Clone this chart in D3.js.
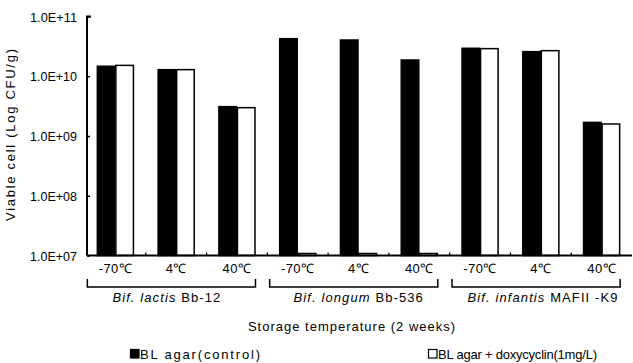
<!DOCTYPE html>
<html>
<head>
<meta charset="utf-8">
<script src="https://cdn.jsdelivr.net/npm/d3@7"></script>
<style>
  body { margin: 0; background: #fff; }
  svg { font-family: "Liberation Sans", Arial, sans-serif; }
</style>
</head>
<body>
<svg id="chart" width="633" height="363"></svg>
<script>
// temperatures within each strain group
var temps = ["-70\u2103", "4\u2103", "40\u2103"];
var strains = [
    { genus: "Bif. ", species: "lactis", strain: " Bb-12" },
    { genus: "Bif. ", species: "longum", strain: " Bb-536" },
    { genus: "Bif. ", species: "infantis", strain: " MAFII -K9" }
];
var seriesNames = ["BL agar(control)", "BL agar + doxycyclin(1mg/L)"];

// viable cells (CFU/g)
var control = [1.47e10, 1.29e10, 3.1e9, 4.25e10, 4.04e10, 1.87e10, 2.94e10, 2.58e10, 1.69e9];
var doxy    = [1.52e10, 1.29e10, 2.98e9, 1.08e7, 1.08e7, 1.08e7, 2.9e10, 2.68e10, 1.59e9];

var yTicks = [1e7, 1e8, 1e9, 1e10, 1e11];
var yLabels = ["1.0E+07", "1.0E+08", "1.0E+09", "1.0E+10", "1.0E+11"];

var svg = d3.select("#chart");

var cats = [];
for (var i = 0; i < strains.length; i++) {
    for (var j = 0; j < temps.length; j++) {
        cats.push(i + "_" + j);
    }
}

var x = d3.scaleBand()
    .domain(cats)
    .range([85, 632])
    .paddingInner(0.39)
    .paddingOuter(0.195);

var xs = d3.scaleBand()
    .domain([0, 1])
    .range([0, x.bandwidth()]);

var y = d3.scaleLog()
    .domain([1e7, 1e11])
    .range([255.5, 16.5]);

var axisX = 87;

// bars
var data = [];
cats.forEach(function(c, k) {
    data.push({ cat: c, s: 0, v: control[k] });
    data.push({ cat: c, s: 1, v: doxy[k] });
});

svg.append("g").selectAll("rect")
    .data(data)
    .enter().append("rect")
    .attr("x", function(d) { return x(d.cat) + xs(d.s) + 0.5; })
    .attr("y", function(d) { return y(d.v); })
    .attr("width", xs.bandwidth() - 1)
    .attr("height", function(d) { return y(1e7) - y(d.v); })
    .attr("fill", function(d) { return d.s == 0 ? "#000" : "#fff"; })
    .attr("stroke", "#000")
    .attr("stroke-width", 1.5);

// small tick marks at band boundaries on the baseline
svg.append("g").selectAll("line")
    .data(cats.slice(1))
    .enter().append("line")
    .attr("x1", function(d) { return x(d) - x.step() * x.paddingInner() / 2; })
    .attr("x2", function(d) { return x(d) - x.step() * x.paddingInner() / 2; })
    .attr("y1", y(1e7))
    .attr("y2", y(1e7) - 3)
    .attr("stroke", "#000")
    .attr("stroke-width", 1.2);

// x axis line
svg.append("line")
    .attr("x1", axisX).attr("x2", 632)
    .attr("y1", y(1e7)).attr("y2", y(1e7))
    .attr("stroke", "#000").attr("stroke-width", 2);

// y axis
var yAxis = svg.append("g")
    .attr("transform", "translate(" + axisX + ",0)")
    .call(d3.axisRight(y)
        .tickValues(yTicks)
        .tickSize(3)
        .tickFormat(function(d, i) { return ""; }));
yAxis.select(".domain").attr("stroke-width", 2).attr("d", "M0," + y(1e7) + "V" + y(1e11) + "h4");
yAxis.selectAll(".tick line").attr("stroke-width", 1.5);

svg.append("g").selectAll("text")
    .data(yTicks)
    .enter().append("text")
    .attr("x", 77)
    .attr("y", function(d) { return y(d) + 5; })
    .attr("text-anchor", "end")
    .attr("textLength", 47)
    .attr("lengthAdjust", "spacingAndGlyphs")
    .style("font-size", "13px")
    .text(function(d, i) { return yLabels[i]; });

svg.append("text")
    .attr("transform", "translate(15,135) rotate(-90)")
    .attr("text-anchor", "middle")
    .attr("textLength", 172)
    .style("font-size", "13px")
    .text("Viable cell (Log CFU/g)");

// temperature labels
svg.append("g").selectAll("text")
    .data(cats)
    .enter().append("text")
    .attr("x", function(d) { return x(d) + x.bandwidth() / 2; })
    .attr("y", 273)
    .attr("text-anchor", "middle")
    .style("font-size", "13px")
    .style("letter-spacing", "0.4px")
    .text(function(d) { return temps[+d.split("_")[1]]; });

// group brackets, labels nudged as in the original
var labelShift = [-4.5, 5, 7];
strains.forEach(function(s, i) {
    var x0 = x(i + "_0") - 9.5,
        x1 = x(i + "_2") + x.bandwidth();
    svg.append("path")
        .attr("d", "M" + x0 + ",279V287H" + x1 + "V279")
        .attr("fill", "none")
        .attr("stroke", "#000")
        .attr("stroke-width", 1.5);

    var t = svg.append("text")
        .attr("x", (x0 + x1) / 2 + labelShift[i])
        .attr("y", 302)
        .attr("text-anchor", "middle")
        .style("font-size", "13px")
        .style("letter-spacing", "1.1px");
    t.append("tspan").style("font-style", "italic").text(s.genus + s.species);
    t.append("tspan").text(s.strain);
});

svg.append("text")
    .attr("x", 352)
    .attr("y", 331)
    .attr("text-anchor", "middle")
    .style("font-size", "13px")
    .style("letter-spacing", "1px")
    .text("Storage temperature (2 weeks)");

// legend
var legendX = [130, 428],
    legendW = [120, 159];
seriesNames.forEach(function(name, i) {
    svg.append("rect")
        .attr("x", legendX[i] + 0.5)
        .attr("y", 349.5)
        .attr("width", 8.5)
        .attr("height", 8.5)
        .attr("fill", i == 0 ? "#000" : "#fff")
        .attr("stroke", "#000")
        .attr("stroke-width", 1.2);
    svg.append("text")
        .attr("x", legendX[i] + 10)
        .attr("y", 359)
        .attr("textLength", legendW[i])
        .attr("lengthAdjust", "spacing")
        .style("font-size", "13px")
        .text(name);
});
</script>
</body>
</html>
